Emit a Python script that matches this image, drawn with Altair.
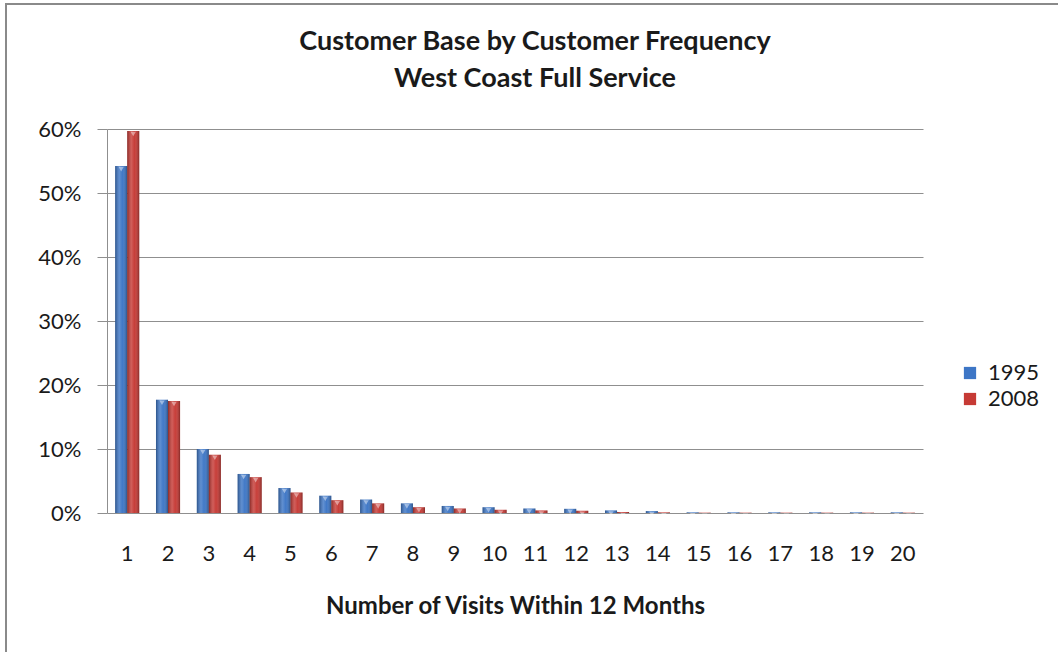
import altair as alt
import pandas as pd

# Share of the customer base by number of visits in a 12-month window
visits = list(range(1, 21))
share_1995 = [0.542, 0.177, 0.100, 0.061, 0.039, 0.027, 0.021, 0.015, 0.011, 0.009,
              0.007, 0.0065, 0.004, 0.003, 0.001, 0.001, 0.001, 0.001, 0.001, 0.001]
share_2008 = [0.597, 0.175, 0.091, 0.056, 0.032, 0.020, 0.015, 0.009, 0.007, 0.005,
              0.004, 0.0035, 0.0015, 0.001, 0.0005, 0.0005, 0.0005, 0.0005, 0.0005, 0.0005]
years = ["1995", "2008"]
year_colors = ["#3d76c6", "#c63a35"]
y_ticks = [0, 0.1, 0.2, 0.3, 0.4, 0.5, 0.6]

rows = []
for v, a, b in zip(visits, share_1995, share_2008):
    rows.append({"visits": v, "year": years[0], "share": a})
    rows.append({"visits": v, "year": years[1], "share": b})
df = pd.DataFrame(rows)

FONT = "Lato"
GRID = "#8f8f8f"
TEXT = "#1a1a1a"

x_enc = alt.X("visits:O", title="Number of Visits Within 12 Months",
              scale=alt.Scale(paddingInner=0.41, paddingOuter=0.2),
              axis=alt.Axis(labelAngle=0, ticks=False, domain=False,
                            labelPadding=30, titlePadding=30,
                            labelFontSize=22, titleFontSize=24,
                            titleFontWeight="bold"))
y_enc = alt.Y("share:Q", title=None,
              scale=alt.Scale(domain=[0, 0.6], nice=False),
              axis=alt.Axis(values=y_ticks, format=".0%", tickSize=10,
                            tickColor=GRID, domainColor=GRID, gridColor=GRID,
                            labelPadding=16, labelFontSize=22))
off_enc = alt.XOffset("year:N", scale=alt.Scale(domain=years))

base = alt.Chart(df)

bars = base.mark_bar().encode(
    x=x_enc, y=y_enc, xOffset=off_enc,
    color=alt.Color("year:N", title=None,
                    scale=alt.Scale(domain=years, range=year_colors),
                    legend=alt.Legend(orient="none", legendX=852, legendY=233,
                                      symbolType="square", symbolSize=150,
                                      symbolStrokeWidth=0, labelFontSize=22,
                                      labelOffset=7, rowPadding=4)),
)

# cylinder shading laid over each bar
shade = alt.Gradient(
    gradient="linear", x1=0, x2=1, y1=0, y2=0,
    stops=[alt.GradientStop(color="rgba(0,0,0,0.30)", offset=0),
           alt.GradientStop(color="rgba(255,255,255,0.18)", offset=0.35),
           alt.GradientStop(color="rgba(255,255,255,0.02)", offset=0.6),
           alt.GradientStop(color="rgba(0,0,0,0.32)", offset=1)],
)
gloss = base.mark_bar(fill=shade).encode(x="visits:O", y="share:Q", xOffset="year:N")

# small bevel notch at the top of each bar
caps = base.mark_point(shape="triangle-down", filled=True, color="white",
                       opacity=0.45, size=28, yOffset=3).encode(
    x="visits:O", y="share:Q", xOffset="year:N")

# outer frame of the chart
frame = alt.Chart(pd.DataFrame({"k": [0]})).mark_rect(
    fill="transparent", stroke="#8a8a8a", strokeWidth=2).encode(
    x=alt.value(-101), x2=alt.value(1100), y=alt.value(-125), y2=alt.value(700))

chart = alt.layer(frame, bars, gloss, caps).properties(
    width=816, height=384,
    title=alt.Title(["Customer Base by Customer Frequency", "West Coast Full Service"],
                    fontSize=27, fontWeight="bold", lineHeight=37,
                    baseline="alphabetic", offset=0, dy=111, dx=20,
                    anchor="middle", frame="group", color=TEXT, font=FONT),
    autosize=alt.AutoSizeParams(type="none"),
    padding={"left": 107, "top": 129, "right": 135, "bottom": 139},
).configure_view(stroke=None).configure_axis(
    labelFont=FONT, titleFont=FONT, labelColor=TEXT, titleColor=TEXT,
).configure_legend(labelFont=FONT, labelColor=TEXT)

chart.save("out.html", embed_options={"renderer": "svg", "actions": False})
